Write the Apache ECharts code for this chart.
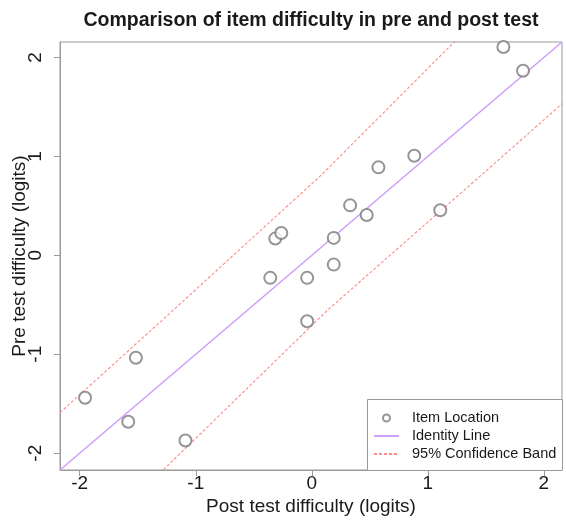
<!DOCTYPE html>
<html>
<head>
<meta charset="utf-8">
<title>Comparison of item difficulty</title>
<script src="https://cdn.jsdelivr.net/npm/echarts@6.0.0/dist/echarts.min.js"></script>
<style>
  html, body { margin: 0; padding: 0; background: #fff; }
  #main { width: 566px; height: 522px; }
</style>
</head>
<body>
<div id="main"></div>
<script>
// item locations (logits)
const postDifficulty = [-1.954, -1.582, -1.516, -1.089, -0.358, -0.315, -0.263, -0.04, -0.04,
  0.189, 0.189, 0.33, 0.473, 0.574, 0.883, 1.107, 1.651, 1.82];
const preDifficulty = [-1.44, -1.683, -1.036, -1.872, -0.228, 0.169, 0.226, -0.228, -0.667,
  0.176, -0.094, 0.505, 0.408, 0.889, 1.007, 0.455, 2.105, 1.866];

// confidence band polylines [post, pre]
const upperBand = [[-2.17, -1.59], [-1.267, -0.632], [0.09, 0.82], [1.227, 2.156], [1.4, 2.36]];
const lowerBand = [[-1.4, -2.31], [-1.281, -2.17], [0.138, -0.552], [1.45, 0.8], [2.16, 1.535]];

const axisRange = [-2.17, 2.156];
const tickValues = [-2, -1, 0, 1, 2];

const fontFamily = "'Liberation Sans', Arial, sans-serif";
const axisGray = "#9a9a9a";
const identityColor = "#cf9ffa";
const bandColor = "#ff8a8a";

let points = postDifficulty.map((x, i) => [x, preDifficulty[i]]);
let identity = axisRange.map((v) => [v, v]);

let chart = echarts.init(document.getElementById("main"), null, { renderer: "canvas" });

let axisCommon = {
  type: "value",
  min: axisRange[0],
  max: axisRange[1],
  nameLocation: "middle",
  nameMoveOverlap: false,
  nameTextStyle: { fontFamily: fontFamily, fontSize: 19, color: "#1a1a1a" },
  splitLine: { show: false },
  axisLine: { show: true, onZero: false, lineStyle: { color: axisGray, width: 1 } },
  axisTick: {
    show: true,
    inside: false,
    length: 6,
    customValues: tickValues,
    lineStyle: { color: axisGray, width: 1 },
  },
};

let option = {
  animation: false,
  backgroundColor: "#fff",
  title: {
    text: "Comparison of item difficulty in pre and post test",
    left: 311,
    textAlign: "center",
    top: 11,
    padding: 0,
    textStyle: { fontFamily: fontFamily, fontSize: 19.5, fontWeight: "bold", color: "#1a1a1a" },
  },
  grid: {
    left: 60,
    top: 42,
    right: 4,
    bottom: 52,
    outerBoundsMode: "none",
    containLabel: false,
    show: true,
    borderColor: axisGray,
    borderWidth: 1,
    backgroundColor: "transparent",
  },
  xAxis: Object.assign({}, axisCommon, {
    name: "Post test difficulty (logits)",
    nameGap: 27,
    axisLabel: {
      customValues: tickValues,
      margin: 4,
      fontFamily: fontFamily,
      fontSize: 19,
      color: "#1a1a1a",
    },
  }),
  yAxis: Object.assign({}, axisCommon, {
    name: "Pre test difficulty (logits)",
    nameGap: 31,
    axisLabel: {
      customValues: tickValues,
      rotate: 90,
      margin: 15,
      fontFamily: fontFamily,
      fontSize: 19,
      color: "#1a1a1a",
    },
  }),
  legend: {
    orient: "vertical",
    left: 373,
    top: 409,
    padding: 0,
    z: 8,
    itemWidth: 25,
    itemHeight: 7,
    itemGap: 0,
    data: ["Item Location", "Identity Line", "95% Confidence Band"],
    textStyle: {
      fontFamily: fontFamily,
      fontSize: 14.5,
      lineHeight: 18,
      color: "#1a1a1a",
      padding: [0, 0, 0, 8],
    },
  },
  graphic: [
    {
      type: "rect",
      shape: { x: 367.5, y: 399.5, width: 195, height: 71 },
      style: { fill: "#fff", stroke: axisGray, lineWidth: 1 },
      z: 3,
      silent: true,
    },
  ],
  series: [
    {
      name: "Identity Line",
      type: "line",
      data: identity,
      symbol: "none",
      itemStyle: { color: identityColor, opacity: 0 },
      lineStyle: { color: identityColor, width: 1.6 },
      z: 2,
    },
    {
      name: "95% Confidence Band",
      type: "line",
      data: upperBand,
      symbol: "none",
      clip: true,
      itemStyle: { color: bandColor, opacity: 0 },
      lineStyle: { color: bandColor, width: 1.1, type: [3, 2] },
      z: 2,
    },
    {
      name: "95% Confidence Band",
      type: "line",
      data: lowerBand,
      symbol: "none",
      clip: true,
      itemStyle: { color: bandColor, opacity: 0 },
      lineStyle: { color: bandColor, width: 1.1, type: [3, 2] },
      z: 2,
    },
    {
      name: "Item Location",
      type: "scatter",
      data: points,
      symbol: "emptyCircle",
      symbolSize: 12,
      itemStyle: { color: "#7a7a7a", borderColor: "#7a7a7a", borderWidth: 1.5 },
      z: 2,
    },
  ],
};

chart.setOption(option);
</script>
</body>
</html>
